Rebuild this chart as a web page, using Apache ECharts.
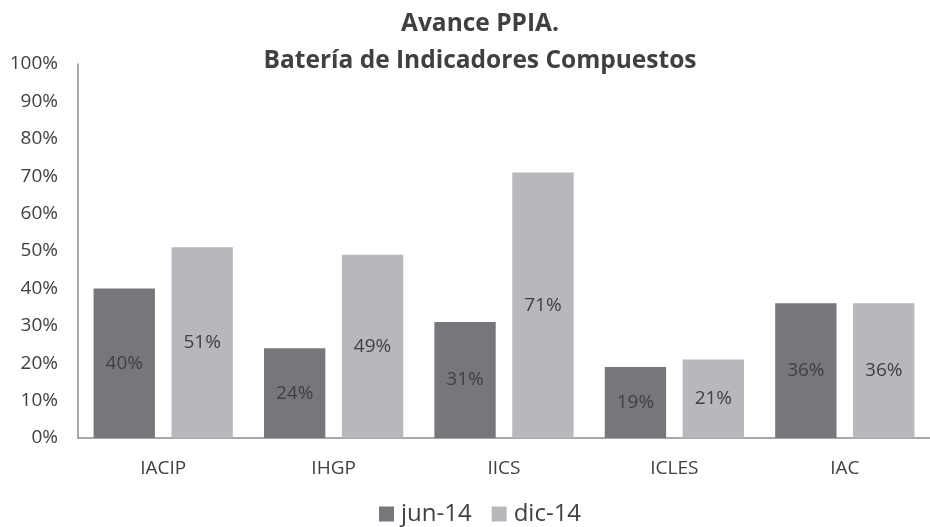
<!DOCTYPE html>
<html>
<head>
<meta charset="utf-8" />
<title>Avance PPIA</title>
<style>
  html, body { margin: 0; padding: 0; width: 100%; height: 100%; background: #fff; }
  #main { width: 930px; height: 527px; }
</style>
</head>
<body>
<div id="main"></div>
<script src="https://cdn.jsdelivr.net/npm/echarts@6/dist/echarts.min.js"></script>
<script>
var categories = ['IACIP', 'IHGP', 'IICS', 'ICLES', 'IAC'];
var jun14 = [40, 24, 31, 19, 36];
var dic14 = [51, 49, 71, 21, 36];
var seriesNames = ['jun-14', 'dic-14'];

var font = 'Open Sans';
var chart = echarts.init(document.getElementById('main'), null, { renderer: 'canvas' });

var labelOpt = {
  show: true,
  position: 'inside',
  formatter: '{c}%',
  color: '#404040',
  fontFamily: font,
  fontSize: 19
};

chart.setOption({
  animation: false,
  title: {
    text: 'Avance PPIA.\nBatería de Indicadores Compuestos',
    left: 475,
    textAlign: 'center',
    top: 1,
    textStyle: { fontFamily: font, fontWeight: 'bold', fontSize: 24.5, color: '#404040', lineHeight: 37 }
  },
  legend: {
    data: seriesNames,
    bottom: -4,
    left: 374,
    icon: 'rect',
    itemWidth: 15,
    itemHeight: 15,
    itemGap: 20,
    textStyle: { fontFamily: font, fontSize: 24, color: '#404040', padding: [0, 0, 0, 2] }
  },
  grid: { left: 78, right: 0, top: 64, bottom: 89 },
  xAxis: {
    type: 'category',
    data: categories,
    axisLine: { lineStyle: { color: '#8c8c8c', width: 1.5 } },
    axisTick: { show: false },
    axisLabel: { fontFamily: font, fontSize: 19, color: '#404040', margin: 21 }
  },
  yAxis: {
    type: 'value',
    min: 0,
    max: 100,
    interval: 10,
    axisLine: { show: true, lineStyle: { color: '#8c8c8c', width: 1.5 } },
    axisTick: { show: false },
    splitLine: { show: false },
    axisLabel: { formatter: '{value}%', fontFamily: font, fontSize: 19, color: '#404040', margin: 20 }
  },
  series: [
    { name: seriesNames[0], type: 'bar', data: jun14, barWidth: '36%', barGap: '27%',
      itemStyle: { color: '#77777b' }, label: labelOpt },
    { name: seriesNames[1], type: 'bar', data: dic14, barWidth: '36%',
      itemStyle: { color: '#b7b8bc' }, label: labelOpt }
  ]
});
</script>
</body>
</html>
